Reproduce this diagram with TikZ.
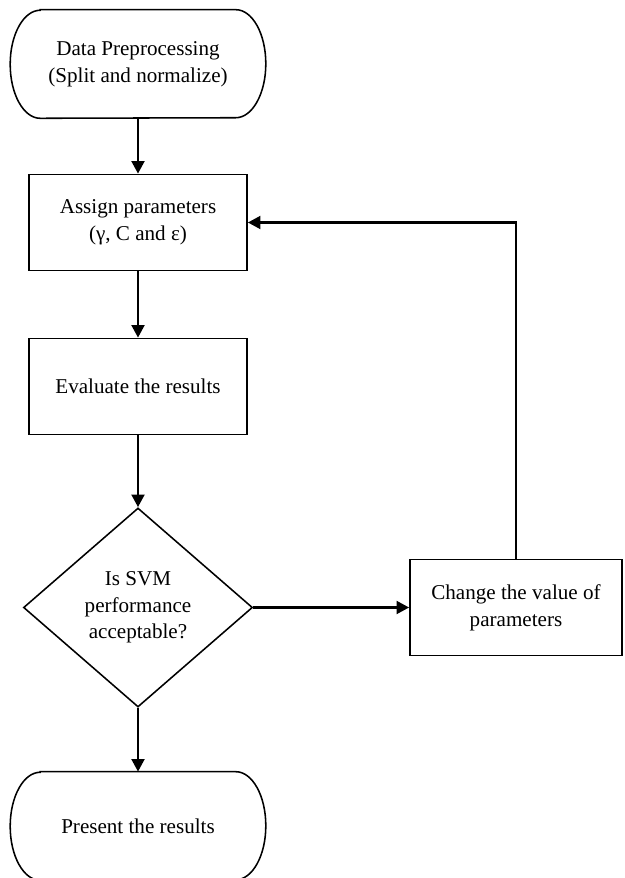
\documentclass[tikz,border=0pt]{standalone}
\usepackage{fontspec}
\setmainfont{Liberation Serif}
\usetikzlibrary{shapes.geometric,arrows.meta,positioning}

\begin{document}
\begin{tikzpicture}[x=0.025cm, y=-0.025cm,
		txt/.style={align=center, font=\fontsize{15}{19}\selectfont},
		term/.style={txt, minimum width=6.375cm, minimum height=2.7cm},
		proc/.style={draw, txt, minimum width=5.45cm, minimum height=2.4cm, line width=1.1pt},
		decide/.style={draw, txt, diamond, inner sep=0pt, minimum width=5.725cm, minimum height=4.975cm, line width=1.1pt},
		arr/.style={line width=2.1pt, -{Triangle[length=9pt, width=9pt]}}]
		\useasboundingbox (0,0) rectangle (624,878);

		\node[term] (prep) at (138,64) {Data Preprocessing\\(Split and normalize)};
		\node[proc] (assign) at (138,222.5) {Assign parameters\\(γ, C and ε)};
		\node[proc] (eval) at (138,386.5) {Evaluate the results};
		\node[decide] (check) at (138,607.5) {Is SVM\\performance\\acceptable?};
		\node[proc, minimum width=5.3cm] (change) at (516,607.5) {Change the value of\\parameters};
		\node[term] (present) at (138,826) {Present the results};

		% start and end outlines with oval ends
		\foreach \t in {prep,present}
			\draw[line width=1.1pt] ([xshift=0.75cm]\t.north west) -- ([xshift=-0.75cm]\t.north east)
				arc[start angle=90, end angle=-90, x radius=0.75cm, y radius=1.35cm]
				-- ([xshift=0.75cm]\t.south west)
				arc[start angle=270, end angle=90, x radius=0.75cm, y radius=1.35cm] -- cycle;

		\draw[arr] (prep) -- (assign);
		\draw[arr] (assign) -- (eval);
		\draw[arr] (eval) -- (check);
		\draw[arr] (check) -- (present);
		\draw[arr] (check.east) -- (change.west);
		\draw[arr] (change.north) |- (assign.east);
	\end{tikzpicture}
\end{document}
